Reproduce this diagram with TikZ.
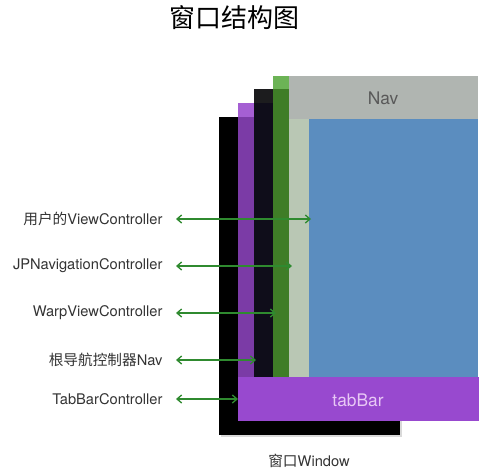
\documentclass[tikz,border=0pt]{standalone}
\usepackage{fontspec}
\setmainfont{TeX Gyre Heros}
\newfontfamily\cjk{Noto Sans CJK SC}
\usetikzlibrary{arrows.meta}

\definecolor{winBlack}{RGB}{0,0,0}
\definecolor{purpleDark}{RGB}{123,59,166}
\definecolor{purpleLight}{RGB}{165,95,211}
\definecolor{navBlack}{RGB}{15,13,26}
\definecolor{navBlackTop}{RGB}{28,28,30}
\definecolor{greenDark}{RGB}{63,125,39}
\definecolor{greenLight}{RGB}{108,179,86}
\definecolor{navGray}{RGB}{176,181,177}
\definecolor{stripGray}{RGB}{185,199,180}
\definecolor{viewBlue}{RGB}{91,141,191}
\definecolor{tabPurple}{RGB}{152,73,207}
\definecolor{tabText}{RGB}{232,200,245}
\definecolor{linkGreen}{RGB}{47,138,47}

\tikzset{every picture/.style={line width=0.75pt}}
\tikzset{
  label/.style={anchor=east,inner sep=0.75pt,font=\fontsize{11}{13}\selectfont,text=black!80},
  link/.style={draw=linkGreen,line width=1pt,shorten <=9pt,
    {Straight Barb[length=3.5pt,width=6pt]}-{Straight Barb[length=3.5pt,width=6pt]}}
}

\begin{document}
\begin{tikzpicture}[x=0.75pt,y=0.75pt,yscale=-1,xscale=1]
\useasboundingbox (0,0) rectangle (500,475);

%Shape: Rectangle [window shadow]
\fill [black!15] (221,119) rectangle (402,437);
%Shape: Rectangle [window]
\fill [winBlack] (219,117) rectangle (400,435);
%Shape: Rectangle [tabbar controller]
\fill [purpleDark] (238,103) rectangle (400,377);
\fill [purpleLight] (238,103) rectangle (254,117);
%Shape: Rectangle [root nav]
\fill [navBlack] (254,89) rectangle (400,377);
\fill [navBlackTop] (254,89) rectangle (273,103);
%Shape: Rectangle [warp controller]
\fill [greenDark] (273,76) rectangle (400,377);
\fill [greenLight] (273,76) rectangle (289,89);
%Shape: Rectangle [nav bar]
\fill [navGray] (289,76) rectangle (478,119);
%Shape: Rectangle [jp nav controller]
\fill [stripGray] (289,119) rectangle (309,377);
%Shape: Rectangle [user view]
\fill [viewBlue] (309,119) rectangle (478,377);
%Shape: Rectangle [tab bar]
\fill [tabPurple] (238,377) rectangle (479,421);

% Text Node
\node (title) at (234,18) {\cjk\fontsize{19.5}{22}\selectfont 窗口结构图};
% Text Node
\node (nav) at (383,98) [text=black!65,font=\fontsize{13}{15}\selectfont] {Nav};
% Text Node
\node (tabbar) at (358,400) [text=tabText,font=\fontsize{13}{15}\selectfont] {tabBar};
% Text Node
\node (window) at (309,461) [font=\fontsize{11}{13}\selectfont,text=black!80] {{\cjk 窗口}Window};

% Text Node
\node (userVC) [label] at (164,219) {{\cjk 用户的}ViewController};
\node (jpNav) [label] at (164,266) {JPNavigationController};
\node (warpVC) [label] at (164,313) {WarpViewController};
\node (rootNav) [label] at (164,360) {{\cjk 根导航控制器}Nav};
\node (tabBarVC) [label] at (164,399) {TabBarController};

% end points on the layers
\coordinate (userEnd) at (311,219);
\coordinate (jpEnd) at (292,266);
\coordinate (warpEnd) at (276,313);
\coordinate (rootEnd) at (256,360);
\coordinate (tabEnd) at (238,399);

%Straight Lines
\draw [link] (userVC.east) -- (userEnd);
\draw [link] (jpNav.east) -- (jpEnd);
\draw [link] (warpVC.east) -- (warpEnd);
\draw [link] (rootNav.east) -- (rootEnd);
\draw [link] (tabBarVC.east) -- (tabEnd);

\end{tikzpicture}
\end{document}
